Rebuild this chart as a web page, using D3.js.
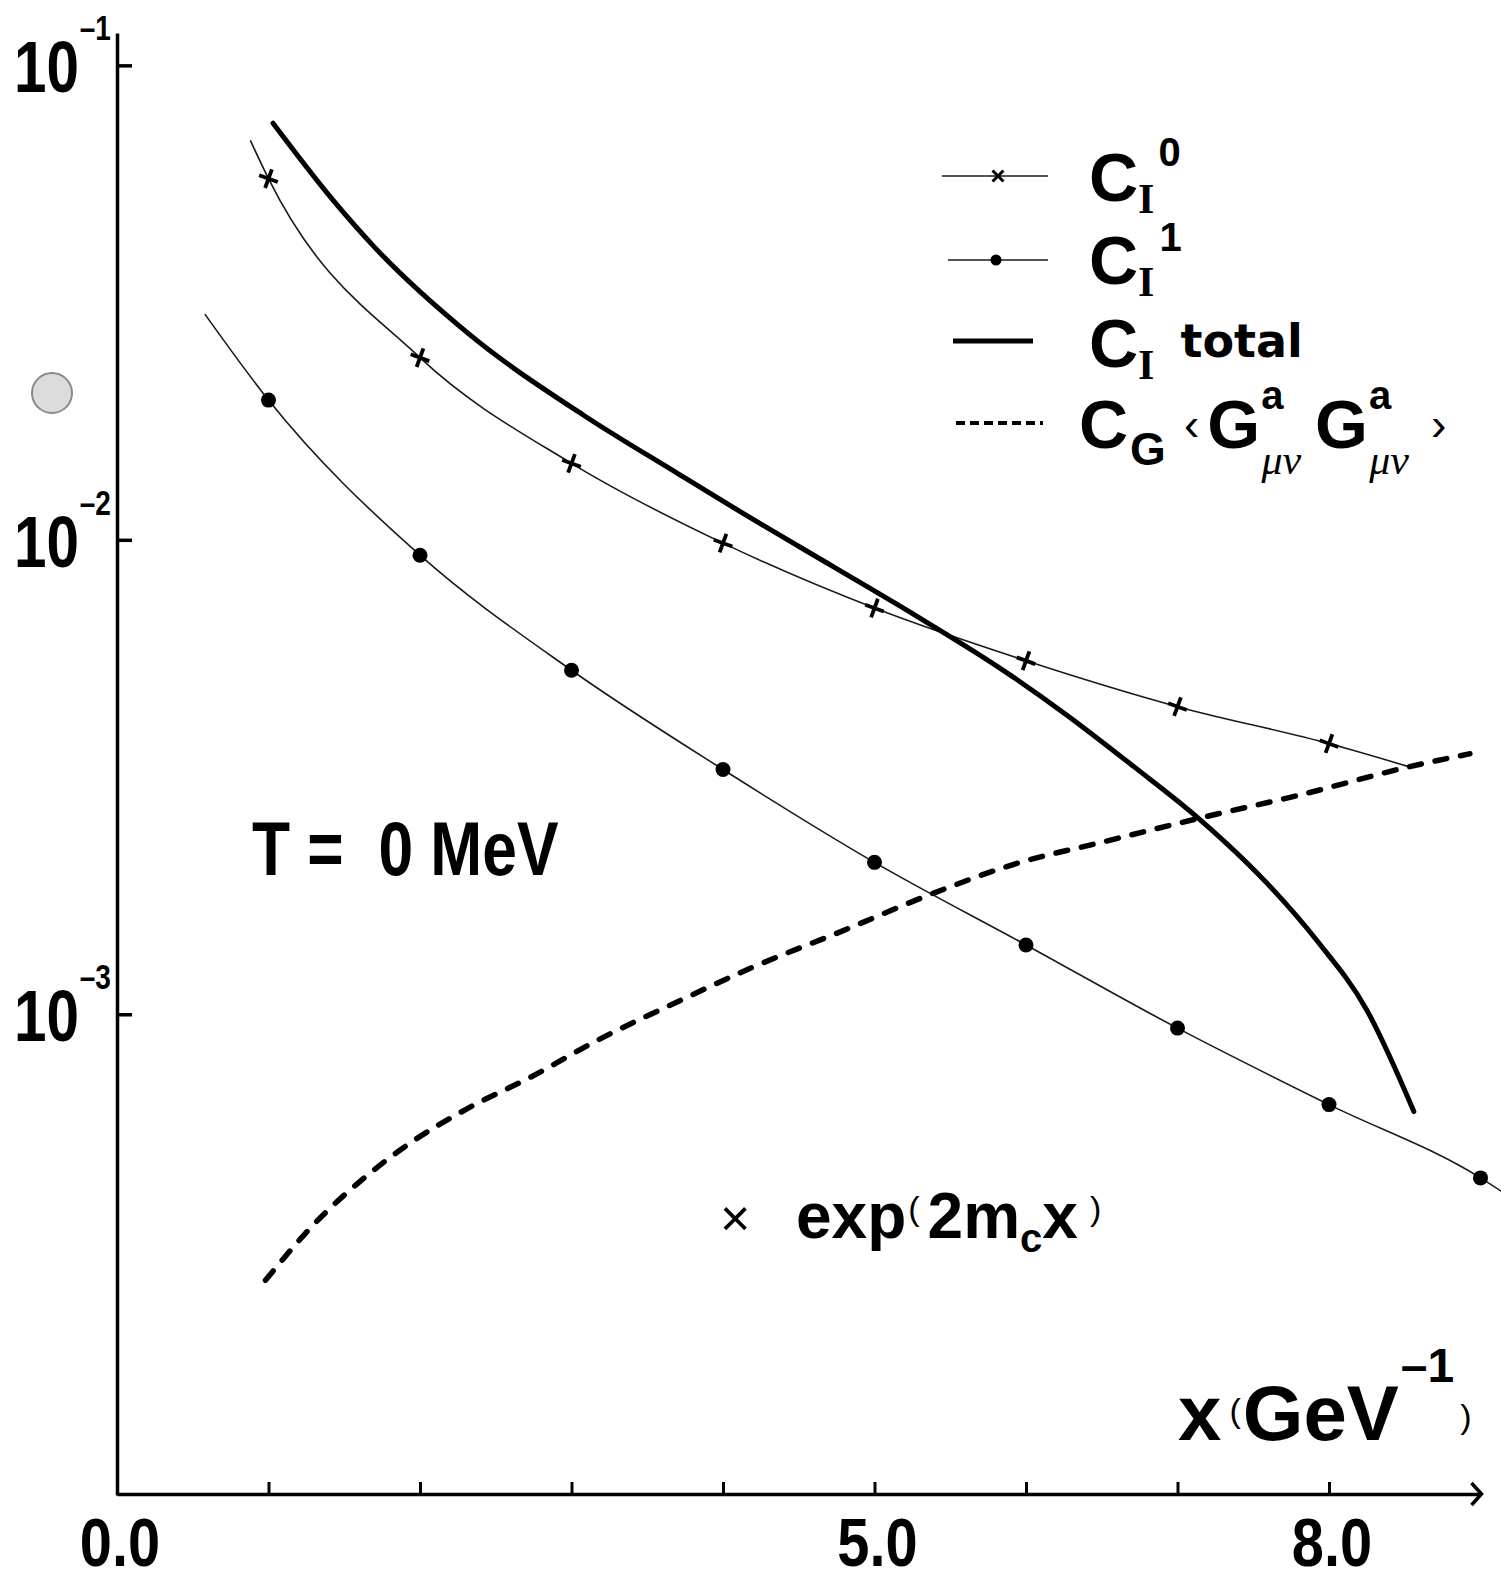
<!DOCTYPE html>
<html><head><meta charset="utf-8">
<script src="https://cdn.jsdelivr.net/npm/d3@7"></script>
<style>
body{margin:0;background:#fff}
svg{display:block}
text{white-space:pre}
</style>
</head><body>
<svg id="chart" width="1501" height="1581"></svg>
<script>
// ---------- data ----------
const xTickValues = [1, 2, 3, 4, 5, 6, 7, 8];
const xLabelValues = [0, 5, 8];
const xLabelTexts = ["0.0", "5.0", "8.0"];
const yTickValues = [1e-1, 1e-2, 1e-3];
const yTickExponents = ["\u20131", "\u20132", "\u20133"];

// C_I^0 (crosses)
const cI0X = [1, 2, 3, 4, 5, 6, 7, 8];
const cI0Y = [0.0577, 0.0242, 0.01449, 0.00984, 0.00718, 0.00556, 0.00445, 0.00372];
const cI0CurveStart = [0.88, 0.0695];
const cI0CurveEnd = [8.52, 0.00333];

// C_I^1 (dots)
const cI1X = [1, 2, 3, 4, 5, 6, 7, 8, 9];
const cI1Y = [0.0197, 0.00928, 0.00531, 0.00328, 0.00209, 0.00140, 0.000935, 0.000645, 0.000452];
const cI1CurveStart = [0.58, 0.0299];
const cI1CurveEnd = [9.14, 0.000423];

// C_I total (thick solid)
const cTotX = [1.03, 1.43, 1.69, 2.32, 3.08, 3.71, 4.13, 4.73, 5.28, 5.83, 6.27, 6.71, 7.15, 7.59, 7.92, 8.25, 8.56];
const cTotY = [0.0755, 0.0518, 0.0417, 0.0272, 0.0183, 0.01374, 0.01138, 0.00877, 0.00690, 0.00536, 0.00427, 0.00333, 0.00257, 0.00189, 0.00143, 0.00102, 0.000624];

// C_G <GG> (dashed)
const cGX = [0.98, 1.30, 1.65, 1.96, 2.31, 2.73, 3.17, 3.72, 4.18, 4.77, 5.39, 5.94, 6.49, 7.19, 7.81, 8.54, 8.93];
const cGY = [0.000275, 0.000361, 0.000457, 0.000542, 0.000632, 0.000737, 0.000881, 0.00107, 0.00125, 0.00149, 0.00180, 0.00208, 0.00230, 0.00261, 0.00290, 0.00333, 0.00354];

// ---------- drawing ----------
const svg = d3.select("#chart");
const W = 1501, H = 1581;
svg.append("rect").attr("width", W).attr("height", H).attr("fill", "#fff");

const x = d3.scaleLinear().domain([0, 9]).range([117, 1480.5]);
const y = d3.scaleLog().domain([9.7e-5, 0.117]).range([1495, 33]);
const axisY = 1494;

const SANS = "'Liberation Sans', Arial, Helvetica, sans-serif";
const SERIF = "'Liberation Serif', 'Times New Roman', serif";

// condensed bold text (horizontal squeeze of a bold sans)
function narrow(parent, px, py, sx) {
  return parent.append("g").attr("transform", `translate(${px},${py}) scale(${sx},1)`)
    .append("text").attr("x", 0).attr("y", 0)
    .attr("font-family", SANS).attr("font-weight", "bold");
}

// scan artefact (punched hole)
svg.append("circle").attr("cx", 52).attr("cy", 393).attr("r", 20)
  .attr("fill", "#dcdcdc").attr("stroke", "#8a8a8a").attr("stroke-width", 2);

// x axis
const gx = svg.append("g").attr("transform", `translate(0,${axisY})`)
  .call(d3.axisTop(x).tickValues(xTickValues).tickSize(12).tickSizeOuter(0).tickFormat(""));
gx.select(".domain").attr("stroke", "#000").attr("stroke-width", 3.5);
gx.selectAll(".tick line").attr("stroke", "#000").attr("stroke-width", 3);
svg.append("path")
  .attr("d", `M${x(9) - 9},${axisY - 11} L${x(9) + 1},${axisY} L${x(9) - 9},${axisY + 11}`)
  .attr("fill", "none").attr("stroke", "#000").attr("stroke-width", 3.5);

// x labels
xLabelValues.forEach((v, i) => {
  narrow(svg, x(v) + 3, 1566, 0.85).attr("text-anchor", "middle").attr("font-size", 68)
    .text(xLabelTexts[i]);
});

// y axis
const gy = svg.append("g").attr("transform", `translate(${x(0)},0)`)
  .call(d3.axisRight(y).tickValues(yTickValues).tickSize(15).tickSizeOuter(0).tickFormat(""));
gy.select(".domain").attr("stroke", "#000").attr("stroke-width", 3.5);
gy.selectAll(".tick line").attr("stroke", "#000").attr("stroke-width", 3.5);

// y labels 10^-n  (one text each: "10" + superscript exponent)
yTickValues.forEach((v, i) => {
  const t = narrow(svg, 14, y(v) + 27, 0.8).attr("font-size", 73);
  t.append("tspan").text("10");
  t.append("tspan").attr("font-size", 35).attr("dx", 1).attr("dy", -52).text(yTickExponents[i]);
});

// curves
const line = d3.line().x(d => x(d[0])).y(d => y(d[1])).curve(d3.curveMonotoneX);

const cI0Pts = cI0X.map((v, i) => [v, cI0Y[i]]);
const cI1Pts = cI1X.map((v, i) => [v, cI1Y[i]]);
const totPts = cTotX.map((v, i) => [v, cTotY[i]]);
const cGPts = cGX.map((v, i) => [v, cGY[i]]);

svg.append("path").datum([cI0CurveStart, ...cI0Pts, cI0CurveEnd])
  .attr("d", line).attr("fill", "none").attr("stroke", "#1a1a1a").attr("stroke-width", 1.6);
svg.append("path").datum([cI1CurveStart, ...cI1Pts, cI1CurveEnd])
  .attr("d", line).attr("fill", "none").attr("stroke", "#1a1a1a").attr("stroke-width", 1.6);
svg.append("path").datum(totPts)
  .attr("d", line).attr("fill", "none").attr("stroke", "#000").attr("stroke-width", 5)
  .attr("stroke-linecap", "round");
svg.append("path").datum(cGPts)
  .attr("d", line).attr("fill", "none").attr("stroke", "#000").attr("stroke-width", 5.5)
  .attr("stroke-dasharray", "12,14").attr("stroke-linecap", "round");

// markers
const crossSym = d3.symbol().type(d3.symbolX).size(130);
svg.append("g").selectAll("path").data(cI0Pts).join("path")
  .attr("d", crossSym)
  .attr("transform", d => `translate(${x(d[0])},${y(d[1])}) rotate(-25)`)
  .attr("fill", "none").attr("stroke", "#000").attr("stroke-width", 3.8);
svg.append("g").selectAll("circle").data(cI1Pts).join("circle")
  .attr("cx", d => x(d[0])).attr("cy", d => y(d[1])).attr("r", 7.5).attr("fill", "#000");

// ---------- legend ----------
const lg = svg.append("g");
function cILabel(base) {
  const t = lg.append("text").attr("x", 1089).attr("y", base)
    .attr("font-family", SANS).attr("font-weight", "bold").attr("font-size", 68);
  t.append("tspan").text("C");
  t.append("tspan").attr("font-family", SERIF).attr("font-size", 42).attr("dx", 0).attr("dy", 12).text("I");
  return t;
}
// row 1
lg.append("line").attr("x1", 942).attr("x2", 1048).attr("y1", 176).attr("y2", 176)
  .attr("stroke", "#1a1a1a").attr("stroke-width", 1.6);
lg.append("path").attr("d", d3.symbol().type(d3.symbolX).size(80))
  .attr("transform", "translate(998,176)").attr("fill", "none").attr("stroke", "#000").attr("stroke-width", 3);
cILabel(201).append("tspan").attr("font-size", 40).attr("dx", 4).attr("dy", -47).text("0");
// row 2
lg.append("line").attr("x1", 948).attr("x2", 1048).attr("y1", 260).attr("y2", 260)
  .attr("stroke", "#1a1a1a").attr("stroke-width", 1.6);
lg.append("circle").attr("cx", 996).attr("cy", 260).attr("r", 5.5).attr("fill", "#000");
cILabel(284).append("tspan").attr("font-size", 40).attr("dx", 5).attr("dy", -45).text("1");
// row 3
lg.append("line").attr("x1", 953).attr("x2", 1033).attr("y1", 341).attr("y2", 341)
  .attr("stroke", "#000").attr("stroke-width", 5);
cILabel(367).append("tspan").attr("font-family", "'DejaVu Sans', sans-serif")
  .attr("font-size", 46).attr("dx", 26).attr("dy", -22).text("total");
// row 4
lg.append("line").attr("x1", 956).attr("x2", 1043).attr("y1", 423).attr("y2", 423)
  .attr("stroke", "#000").attr("stroke-width", 4).attr("stroke-dasharray", "9,5");
const r4 = lg.append("text").attr("x", 1079).attr("y", 448)
  .attr("font-family", SANS).attr("font-weight", "bold").attr("font-size", 68);
r4.append("tspan").text("C");
r4.append("tspan").attr("font-size", 46).attr("dx", 2).attr("dy", 17).text("G");
r4.append("tspan").attr("font-size", 46).attr("font-weight", "normal").attr("dx", 18).attr("dy", -25).text("\u2039");
r4.append("tspan").attr("dx", 8).attr("dy", 8).text("G");
r4.append("tspan").attr("font-size", 40).attr("dx", 1).attr("dy", -39).text("a");
r4.append("tspan").attr("font-family", SERIF).attr("font-style", "italic").attr("font-weight", "normal")
  .attr("font-size", 42).attr("dx", -22).attr("dy", 65).text("\u03BC\u03BD");
r4.append("tspan").attr("dx", 14).attr("dy", -26).text("G");
r4.append("tspan").attr("font-size", 40).attr("dx", 1).attr("dy", -39).text("a");
r4.append("tspan").attr("font-family", SERIF).attr("font-style", "italic").attr("font-weight", "normal")
  .attr("font-size", 42).attr("dx", -22).attr("dy", 65).text("\u03BC\u03BD");
r4.append("tspan").attr("font-size", 46).attr("font-weight", "normal").attr("dx", 22).attr("dy", -34).text("\u203A");

// ---------- annotations ----------
narrow(svg, 252, 875, 0.82).attr("font-size", 76).text("T =  0 MeV");

svg.append("text").attr("x", 720).attr("y", 1236)
  .attr("font-family", SANS).attr("font-size", 52).text("\u00D7");
const ex = svg.append("text").attr("x", 796).attr("y", 1238)
  .attr("font-family", SANS).attr("font-weight", "bold").attr("font-size", 64);
ex.append("tspan").text("exp");
ex.append("tspan").attr("font-size", 34).attr("font-weight", "normal").attr("dx", 2).attr("dy", -18).text("(");
ex.append("tspan").attr("dx", 8).attr("dy", 18).text("2m");
ex.append("tspan").attr("font-size", 40).attr("dy", 14).text("c");
ex.append("tspan").attr("dy", -14).text("x");
ex.append("tspan").attr("font-size", 34).attr("font-weight", "normal").attr("dx", 12).attr("dy", -18).text(")");

const xl = svg.append("text").attr("x", 1178).attr("y", 1440)
  .attr("font-family", SANS).attr("font-weight", "bold").attr("font-size", 78);
xl.append("tspan").text("x");
xl.append("tspan").attr("font-size", 34).attr("font-weight", "normal").attr("dy", -18).attr("dx", 8).text("(");
xl.append("tspan").attr("dy", 18).attr("dx", 2).text("GeV");
xl.append("tspan").attr("font-size", 48).attr("dy", -58).attr("dx", 2).text("\u20131");
xl.append("tspan").attr("font-size", 34).attr("font-weight", "normal").attr("dy", 46).attr("dx", 6).text(")");
</script>
</body></html>
